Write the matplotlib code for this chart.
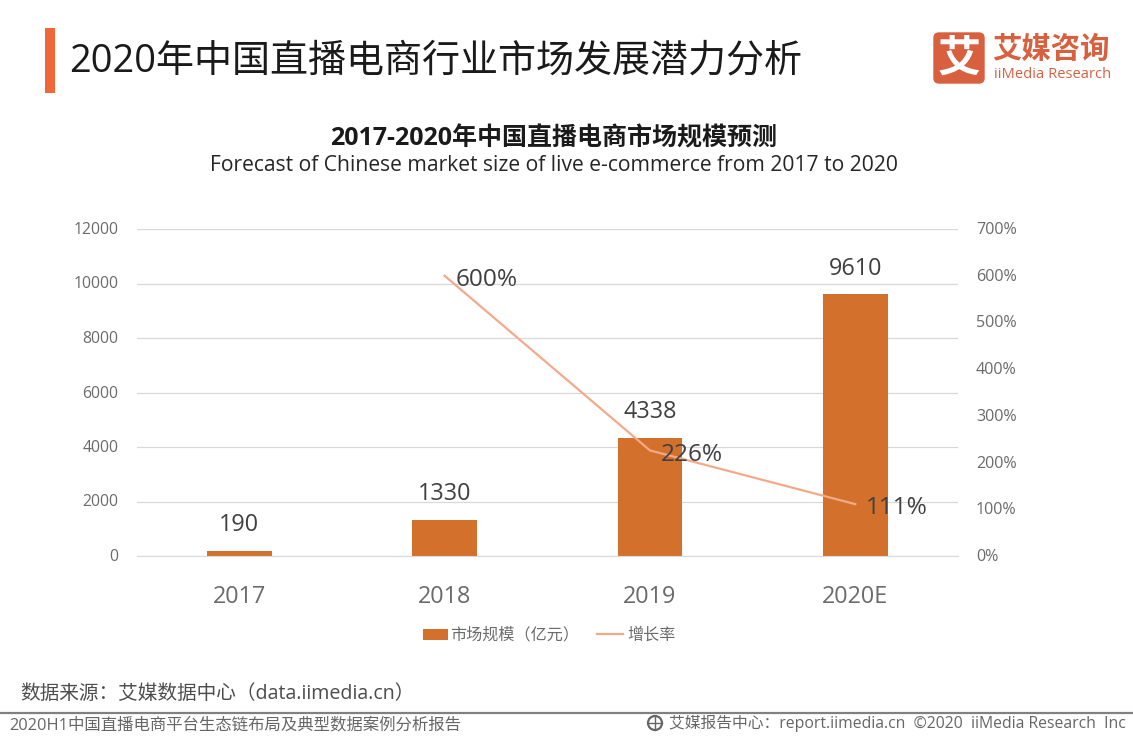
import matplotlib
matplotlib.use("Agg")
import matplotlib.pyplot as plt
from matplotlib.patches import Rectangle, FancyBboxPatch, Circle
from matplotlib.lines import Line2D
from matplotlib.transforms import ScaledTranslation

plt.rcParams['font.family'] = ['Open Sans', 'Noto Sans CJK SC', 'DejaVu Sans']

categories = ['2017', '2018', '2019', '2020E']
market_size = [190, 1330, 4338, 9610]
growth_rate = [None, 600, 226, 111]
growth_labels = ['600%', '226%', '111%']
left_ticks = [0, 2000, 4000, 6000, 8000, 10000, 12000]
right_ticks = [0, 100, 200, 300, 400, 500, 600, 700]
main_title = '2020年中国直播电商行业市场发展潜力分析'
chart_title = '2017-2020年中国直播电商市场规模预测'
chart_subtitle = 'Forecast of Chinese market size of live e-commerce from 2017 to 2020'
series_names = ['市场规模（亿元）', '增长率']
source_text = '数据来源：艾媒数据中心（data.iimedia.cn）'
footer_left = '2020H1中国直播电商平台生态链布局及典型数据案例分析报告'
footer_right = '艾媒报告中心：report.iimedia.cn  ©2020  iiMedia Research  Inc'

W, H = 1133, 737
BAR = '#D2702C'
LINE = '#F4A98A'
GRID = '#D9D9D9'
TICK = '#6B6B6B'
LABEL = '#404040'
ORANGE = '#F0673A'
LOGO = '#D9603F'

fig = plt.figure(figsize=(W / 100, H / 100), dpi=100)
bg = fig.add_axes([0, 0, 1, 1])
bg.set_xlim(0, W)
bg.set_ylim(H, 0)
bg.axis('off')

def px(x, y, s, size, color='#333333', ha='left', va='center', weight='normal', **kw):
    return bg.text(x, y, s, fontsize=size, color=color, ha=ha, va=va, fontweight=weight, **kw)

# Header
bg.add_patch(Rectangle((45, 28), 10, 65, color=ORANGE, lw=0))
px(69, 61, main_title, 27.4, color='#1A1A1A')

# Logo
bg.add_patch(FancyBboxPatch((934, 33), 50, 50, boxstyle='round,pad=0,rounding_size=5',
                            fc=LOGO, ec=LOGO, lw=1))
px(959, 60, '艾', 31, color='white', ha='center', weight='bold')
px(992, 50, '艾媒咨询', 21.2, color=LOGO, weight='bold')
px(994, 74, 'iiMedia Research', 10.6, color=LOGO)

# Chart titles
px(553.5, 139, chart_title, 18, color='#1A1A1A', ha='center', weight='bold')
px(553.5, 165, chart_subtitle, 15.2, color='#262626', ha='center')

# Plot
x0, x1, y_top, y_bot = 136.5, 958, 229, 556
ax = fig.add_axes([x0 / W, 1 - y_bot / H, (x1 - x0) / W, (y_bot - y_top) / H])
ax.patch.set_alpha(0)
xs = list(range(len(categories)))
ax.set_xlim(-0.5, 3.5)
ax.set_ylim(0, 12000)
ax.set_yticks(left_ticks)
ax.set_xticks(xs, categories)
ax.grid(axis='y', color=GRID, lw=0.9)
ax.set_axisbelow(True)
for s in ['top', 'left', 'right']:
    ax.spines[s].set_visible(False)
ax.spines['bottom'].set_color(GRID)
ax.tick_params(axis='both', length=0)
ax.tick_params(axis='y', labelsize=11.3, labelcolor=TICK, pad=13)
ax.tick_params(axis='x', labelsize=16.8, labelcolor=TICK, pad=21)
ax.bar(xs, market_size, width=0.315, color=BAR, zorder=2)
for x, v in zip(xs, market_size):
    ax.annotate(str(v), (x, v), xytext=(0, 9.8), textcoords='offset points', ha='center', va='bottom',
                fontsize=16.8, color=LABEL, zorder=5)

ax2 = ax.twinx()
ax2.patch.set_alpha(0)
ax2.set_ylim(0, 700)
ax2.set_yticks(right_ticks, [f'{t}%' for t in right_ticks])
for s in ax2.spines.values():
    s.set_visible(False)
ax2.tick_params(axis='y', length=0, labelsize=11.6, labelcolor=TICK, pad=13)
up = ScaledTranslation(0, 1 / 100, fig.dpi_scale_trans)
for lab in ax.get_yticklabels() + ax2.get_yticklabels():
    lab.set_transform(lab.get_transform() + up)
gx = [x for x, g in zip(xs, growth_rate) if g is not None]
gy = [g for g in growth_rate if g is not None]
ax2.plot(gx, gy, color=LINE, lw=1.6, zorder=3)
for x, y, t in zip(gx, gy, growth_labels):
    ax2.annotate(t, (x, y), xytext=(7.8, -3), textcoords='offset points', ha='left', va='center',
                 fontsize=17.6, color=LABEL, zorder=5)

# Legend
bg.add_patch(Rectangle((423, 629), 25, 11, color=BAR, lw=0))
px(450, 635.5, series_names[0], 11.6, color=TICK)
bg.add_line(Line2D([597, 623], [634, 634], color=LINE, lw=1.6))
px(627, 635.5, series_names[1], 11.6, color=TICK)

# Footer
px(20, 694, source_text, 14.15, color='#4D4D4D', weight='medium')
bg.add_line(Line2D([0, W], [712.5, 712.5], color='#808080', lw=1.6))
px(9.5, 725, footer_left, 11.8, color='#666666', weight='medium')
bg.add_patch(Circle((655, 723), 7, fc='none', ec='#666666', lw=1.6))
bg.add_line(Line2D([648, 662], [723, 723], color='#666666', lw=1))
bg.add_line(Line2D([655, 655], [716, 730], color='#666666', lw=1))
px(669, 723, footer_right, 11.37, color='#666666')

fig.savefig('out.png', dpi=100)
